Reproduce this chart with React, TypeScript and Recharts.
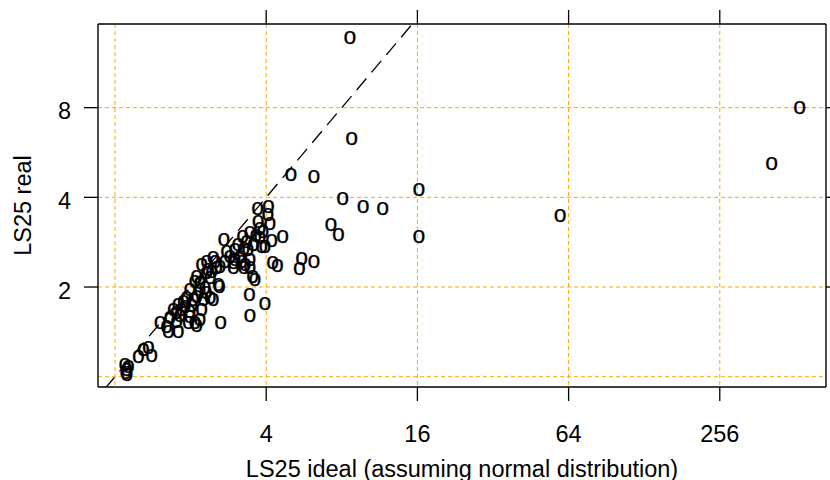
import React from "react";
import {
  ScatterChart,
  Scatter,
  XAxis,
  YAxis,
  CartesianGrid,
  ReferenceLine,
} from "recharts";

// LS25 ideal (assuming normal distribution) vs LS25 real
const idealValues: number[] = [
  1.096, 1.113, 1.106, 1.13, 1.116, 1.238, 1.296, 1.357, 1.4, 1.511,
  1.607, 1.63, 1.786, 1.761, 1.761, 1.9, 1.989, 2.082, 1.959, 2.115,
  2.18, 2.636, 1.707, 1.843, 1.989, 2.214, 2.247, 2.05, 1.87, 1.786,
  1.929, 2.115, 2.39, 2.462, 1.989, 2.18, 2.282, 2.115, 2.18, 2.39,
  2.318, 2.425, 2.214, 2.462, 2.54, 2.619, 2.602, 2.578, 2.318, 2.786,
  2.958, 3.004, 2.958, 3.004, 3.146, 3.195, 3.263, 3.294, 3.448, 3.448,
  3.225, 3.345, 3.263, 3.448, 3.553, 3.701, 3.779, 3.779, 3.838, 3.533,
  3.61, 3.425, 3.956, 3.448, 4.078, 4.141, 4.207, 4.653, 3.956, 4.245,
  4.429, 5.54, 5.419, 6.199, 7.245, 7.748, 5.021, 6.199, 8.067, 9.74,
  11.64, 16.23, 16.23, 59.2, 412, 532, 8.62, 8.76,
  3.089, 3.385, 3.643, 3.885, 2.87, 2.742, 2.502, 2.346, 2.082, 2.304,
  2.026, 1.815, 1.656, 2.717, 4.067, 3.711,
];
const realValues: number[] = [
  1.094, 1.053, 1.027, 1.078, 1.013, 1.167, 1.229, 1.246, 1.173, 1.515,
  1.472, 1.416, 1.416, 1.527, 1.632, 1.718, 1.59, 1.511, 1.511, 1.48,
  1.55, 1.518, 1.675, 1.675, 1.653, 1.675, 1.809, 1.809, 1.785, 1.741,
  1.833, 1.856, 1.833, 1.809, 1.955, 1.955, 1.981, 2.166, 2.059, 2.139,
  2.224, 2.252, 2.371, 2.497, 2.312, 2.341, 1.996, 2.032, 2.432, 2.628,
  2.403, 2.663, 2.312, 2.464, 2.528, 2.432, 2.312, 2.371, 2.464, 2.312,
  2.95, 2.84, 2.678, 3.044, 2.768, 3.648, 3.125, 2.914, 2.732, 2.166,
  2.111, 1.88, 1.75, 1.602, 3.704, 3.256, 2.862, 2.95, 2.732, 2.414,
  2.353, 2.478, 2.294, 2.432, 3.231, 2.99, 4.754, 4.692, 3.95, 3.722,
  3.655, 4.234, 2.95, 3.47, 5.16, 8.0, 13.68, 6.27,
  2.765, 2.663, 2.967, 3.061, 2.523, 2.427, 2.427, 2.282, 2.079, 1.909,
  1.727, 1.599, 1.575, 2.876, 3.49, 3.306,
];

const xTickExps: number[] = [2, 4, 6, 8]; // 4, 16, 64, 256
const yTickExps: number[] = [1, 2, 3]; // 2, 4, 8
const xGridExps: number[] = [0, 2, 4, 6, 8];
const yGridExps: number[] = [0, 1, 2, 3];
const xDomain: [number, number] = [-0.225, 9.405];
const yDomain: [number, number] = [-0.115, 3.933];

const xTitle = "LS25 ideal (assuming normal distribution)";
const yTitle = "LS25 real";

const data = idealValues.map((v, i) => ({
  lx: Math.log2(v),
  ly: Math.log2(realValues[i]),
}));

const FONT = "'Liberation Sans', Arial, Helvetica, sans-serif";
const FS = 23.5;

const OMark = (props: any) => {
  const { cx, cy } = props;
  if (cx == null || cy == null) return <g />;
  return (
    <text
      x={cx}
      y={cy + 6}
      textAnchor="middle"
      fontSize={23}
      fontFamily={FONT}
      fill="#000"
      stroke="#000"
      strokeWidth={0.25}
    >
      o
    </text>
  );
};

const BottomTick = (props: any) => {
  const { x, y, payload } = props;
  return (
    <text
      x={x}
      y={y + 41}
      textAnchor="middle"
      fontSize={FS}
      fontFamily={FONT}
      fill="#000"
    >
      {String(Math.round(Math.pow(2, payload.value)))}
    </text>
  );
};

const LeftTick = (props: any) => {
  const { x, y, payload } = props;
  return (
    <text
      x={x - 13}
      y={y + 11.5}
      textAnchor="end"
      fontSize={FS}
      fontFamily={FONT}
      fill="#000"
    >
      {String(Math.round(Math.pow(2, payload.value)))}
    </text>
  );
};

const NoTick = () => <g />;

const XTitle = (props: any) => {
  const vb = props.viewBox || {};
  return (
    <text
      x={vb.x + vb.width / 2}
      y={vb.y + 90}
      textAnchor="middle"
      fontSize={FS}
      fontFamily={FONT}
      fill="#000"
    >
      {xTitle}
    </text>
  );
};

const YTitle = (props: any) => {
  const vb = props.viewBox || {};
  const cx = 31;
  const cy = vb.y + vb.height / 2;
  return (
    <text
      x={cx}
      y={cy}
      transform={`rotate(-90, ${cx}, ${cy})`}
      textAnchor="middle"
      fontSize={FS}
      fontFamily={FONT}
      fill="#000"
    >
      {yTitle}
    </text>
  );
};

const axisLine = { stroke: "#000", strokeWidth: 1.4 };
const tickLine = { stroke: "#000", strokeWidth: 1.3 };

export default function App() {
  return (
    <div
      style={{
        position: "absolute",
        left: 0,
        top: 0,
        width: 830,
        height: 480,
        background: "#fff",
      }}
    >
      <ScatterChart
        width={830}
        height={480}
        margin={{ top: 0, right: 0, bottom: 0, left: 0 }}
      >
        <CartesianGrid
          horizontal
          vertical
          verticalValues={xGridExps}
          horizontalValues={yGridExps}
          stroke="#FFA500"
          strokeDasharray="4 3"
          strokeWidth={1}
        />
        <XAxis
          type="number"
          dataKey="lx"
          domain={xDomain}
          allowDataOverflow
          ticks={xTickExps}
          interval={0}
          height={93}
          tickSize={14}
          tickMargin={0}
          axisLine={axisLine}
          tickLine={tickLine}
          tick={<BottomTick />}
          label={{ content: <XTitle /> }}
        />
        <XAxis
          xAxisId="top"
          orientation="top"
          type="number"
          dataKey="lx"
          domain={xDomain}
          allowDataOverflow
          ticks={xTickExps}
          interval={0}
          height={24}
          tickSize={14}
          tickMargin={0}
          axisLine={axisLine}
          tickLine={tickLine}
          tick={<NoTick />}
        />
        <YAxis
          type="number"
          dataKey="ly"
          domain={yDomain}
          allowDataOverflow
          ticks={yTickExps}
          interval={0}
          width={98}
          tickSize={14}
          tickMargin={0}
          axisLine={axisLine}
          tickLine={tickLine}
          tick={<LeftTick />}
          label={{ content: <YTitle /> }}
        />
        <YAxis
          yAxisId="right"
          orientation="right"
          type="number"
          dataKey="ly"
          domain={yDomain}
          allowDataOverflow
          ticks={yTickExps}
          interval={0}
          width={4}
          tickSize={14}
          tickMargin={0}
          axisLine={axisLine}
          tickLine={tickLine}
          tick={<NoTick />}
        />
        <Scatter
          data={data}
          shape={<OMark />}
          isAnimationActive={false}
        />
        <ReferenceLine
          segment={[
            { x: xDomain[0] - 0.5, y: xDomain[0] - 0.5 },
            { x: yDomain[1] + 0.5, y: yDomain[1] + 0.5 },
          ]}
          ifOverflow="hidden"
          stroke="#000"
          strokeWidth={1.3}
          strokeDasharray="15 8"
        />
      </ScatterChart>
    </div>
  );
}
